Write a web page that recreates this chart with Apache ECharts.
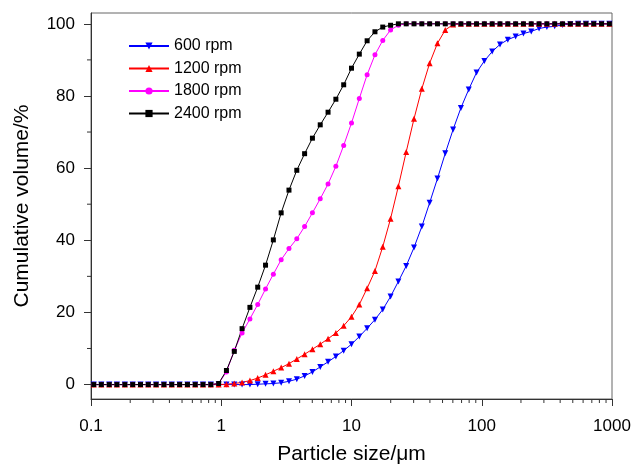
<!DOCTYPE html>
<html>
<head>
<meta charset="utf-8">
<script src="https://cdn.jsdelivr.net/npm/echarts@6/dist/echarts.min.js"></script>
<style>
  html, body { margin: 0; padding: 0; background: #fff; }
  #chart { width: 632px; height: 467px; }
</style>
</head>
<body>
<div id="chart"></div>
<script>
// particle size classes (um)
const sizes = [
  0.105, 0.120, 0.138, 0.158, 0.182, 0.209, 0.240, 0.275, 0.316, 0.363, 0.417, 0.479, 0.550, 0.631, 0.724, 0.832, 0.955,
  1.096, 1.259, 1.445, 1.660, 1.905, 2.188, 2.512, 2.884, 3.311, 3.802, 4.365, 5.012, 5.754, 6.607, 7.586, 8.710,
  10.000, 11.482, 13.183, 15.136, 17.378, 19.953, 22.909, 26.303, 30.200, 34.674, 39.811, 45.709, 52.481, 60.256, 69.183, 79.433, 91.201,
  104.713, 120.226, 138.038, 158.489, 181.970, 208.930, 239.883, 275.423, 316.228, 363.078, 416.869, 478.630, 549.541, 630.957, 724.436, 831.764, 954.993
];

// cumulative volume (%)
const rpm600 = [
  0, 0, 0, 0, 0, 0, 0, 0, 0, 0, 0, 0, 0, 0, 0, 0, 0,
  0, 0, 0, 0, 0.1, 0.2, 0.3, 0.5, 0.9, 1.5, 2.4, 3.5, 4.9, 6.3, 7.8, 9.4,
  11.2, 13.3, 15.6, 18.0, 20.8, 24.4, 28.6, 32.9, 38.0, 43.8, 50.4, 57.1, 64.1, 70.7, 76.7, 81.8, 86.5,
  89.7, 92.3, 94.3, 95.6, 96.5, 97.3, 97.9, 98.7, 99.1, 99.3, 99.7, 99.9, 100, 100, 100, 100, 100
];
const rpm1200 = [
  0, 0, 0, 0, 0, 0, 0, 0, 0, 0, 0, 0, 0, 0, 0, 0, 0,
  0.1, 0.3, 0.6, 1.1, 1.8, 2.7, 3.7, 4.7, 5.8, 7.1, 8.4, 9.8, 11.2, 12.7, 14.3, 16.3,
  18.8, 22.2, 26.7, 31.5, 38.2, 46.0, 55.0, 64.5, 73.7, 82.0, 89.1, 94.6, 98.3, 99.8, 100, 100, 100,
  100, 100, 100, 100, 100, 100, 100, 100, 100, 100, 100, 100, 100, 100, 100, 100, 100
];
const rpm1800 = [
  0, 0, 0, 0, 0, 0, 0, 0, 0, 0, 0, 0, 0, 0, 0, 0, 0.3,
  3.5, 9.5, 14.3, 18.2, 22.2, 26.5, 30.6, 34.6, 37.7, 40.4, 43.8, 47.6, 51.5, 55.6, 60.5, 66.3,
  72.5, 79.3, 85.9, 91.4, 95.4, 98.3, 99.6, 100, 100, 100, 100, 100, 100, 100, 100, 100, 100,
  100, 100, 100, 100, 100, 100, 100, 100, 100, 100, 100, 100, 100, 100, 100, 100, 100
];
const rpm2400 = [
  0, 0, 0, 0, 0, 0, 0, 0, 0, 0, 0, 0, 0, 0, 0, 0, 0.3,
  3.9, 9.2, 15.5, 21.4, 27.0, 33.1, 40.1, 47.6, 53.9, 59.4, 64.0, 68.3, 72.0, 75.5, 79.1, 83.1,
  87.7, 91.6, 95.3, 97.8, 99.1, 99.6, 100, 100, 100, 100, 100, 100, 100, 100, 100, 100, 100,
  100, 100, 100, 100, 100, 100, 100, 100, 100, 100, 100, 100, 100, 100, 100, 100, 100
];

const seriesNames = ['600 rpm', '1200 rpm', '1800 rpm', '2400 rpm'];
const yMajor = [0, 20, 40, 60, 80, 100];
const yMinor = [10, 30, 50, 70, 90];
const xMinor = [0.2, 0.3, 0.4, 0.5, 0.6, 0.7, 0.8, 0.9, 2, 3, 4, 5, 6, 7, 8, 9,
  20, 30, 40, 50, 60, 70, 80, 90, 200, 300, 400, 500, 600, 700, 800, 900];

const X_MIN = 0.1, X_MAX = 1000, Y_MIN = -4, Y_MAX = 103;
const font = 'Liberation Sans, Arial, sans-serif';
const axisColor = '#333';

function pairs(vals) {
    return sizes.map((s, i) => [s, vals[i]]);
}

function lineSeries(name, vals, color, symbol, size, rotate) {
    return {
        name: name,
        type: 'line',
        data: pairs(vals),
        symbol: symbol,
        symbolSize: size,
        symbolRotate: rotate || 0,
        showSymbol: true,
        lineStyle: { color: color, width: 1 },
        itemStyle: { color: color, borderWidth: 0 },
        z: 3
    };
}

// short minor ticks drawn on the axes through the grid's scales
function minorTicks(data, horizontal) {
    return {
        type: 'custom',
        silent: true,
        clip: false,
        z: 5,
        data: data,
        renderItem: function (params, api) {
            const p = api.coord([api.value(0), api.value(1)]);
            const shape = horizontal
                ? { x1: p[0], y1: p[1], x2: p[0], y2: p[1] + 4 }
                : { x1: p[0], y1: p[1], x2: p[0] - 4, y2: p[1] };
            return { type: 'line', shape: shape, style: { stroke: axisColor, lineWidth: 1 } };
        }
    };
}

const chart = echarts.init(document.getElementById('chart'));
chart.setOption({
    animation: false,
    backgroundColor: '#fff',
    textStyle: { fontFamily: font },
    grid: {
        left: 91, right: 20, top: 13, bottom: 68,
        containLabel: false,
        outerBoundsMode: 'none',
        show: true, borderColor: '#666', borderWidth: 1
    },
    legend: {
        data: seriesNames,
        orient: 'vertical',
        left: 123, top: 33,
        itemWidth: 40, itemHeight: 9, itemGap: 6.5,
        textStyle: { fontFamily: font, fontSize: 16, color: '#000' }
    },
    xAxis: {
        type: 'log',
        logBase: 10,
        min: X_MIN, max: X_MAX,
        name: 'Particle size/\u03bcm',
        nameLocation: 'middle',
        nameGap: 45,
        nameTextStyle: { fontFamily: font, fontSize: 21, color: '#000' },
        axisLine: { show: true, onZero: false, lineStyle: { color: axisColor } },
        axisTick: { show: true, length: 7, lineStyle: { color: axisColor } },
        axisLabel: {
            fontFamily: font, fontSize: 17, color: '#000', margin: 19,
            formatter: v => String(v)
        },
        splitLine: { show: false }
    },
    yAxis: {
        type: 'value',
        min: Y_MIN, max: Y_MAX,
        name: 'Cumulative volume/%',
        nameLocation: 'middle',
        nameGap: 58,
        nameTextStyle: { fontFamily: font, fontSize: 21, color: '#000' },
        axisLine: { show: true, onZero: false, lineStyle: { color: axisColor } },
        axisTick: { show: true, length: 7, customValues: yMajor, lineStyle: { color: axisColor } },
        axisLabel: { fontFamily: font, fontSize: 17, color: '#000', margin: 16, customValues: yMajor },
        splitLine: { show: false }
    },
    series: [
        lineSeries(seriesNames[0], rpm600, '#0000ff', 'triangle', 6, 180),
        lineSeries(seriesNames[1], rpm1200, '#ff0000', 'triangle', 6, 0),
        lineSeries(seriesNames[2], rpm1800, '#ff00ff', 'circle', 5, 0),
        lineSeries(seriesNames[3], rpm2400, '#000000', 'rect', 5, 0),
        minorTicks(xMinor.map(v => [v, Y_MIN]), true),
        minorTicks(yMinor.map(v => [X_MIN, v]), false)
    ]
});
</script>
</body>
</html>
